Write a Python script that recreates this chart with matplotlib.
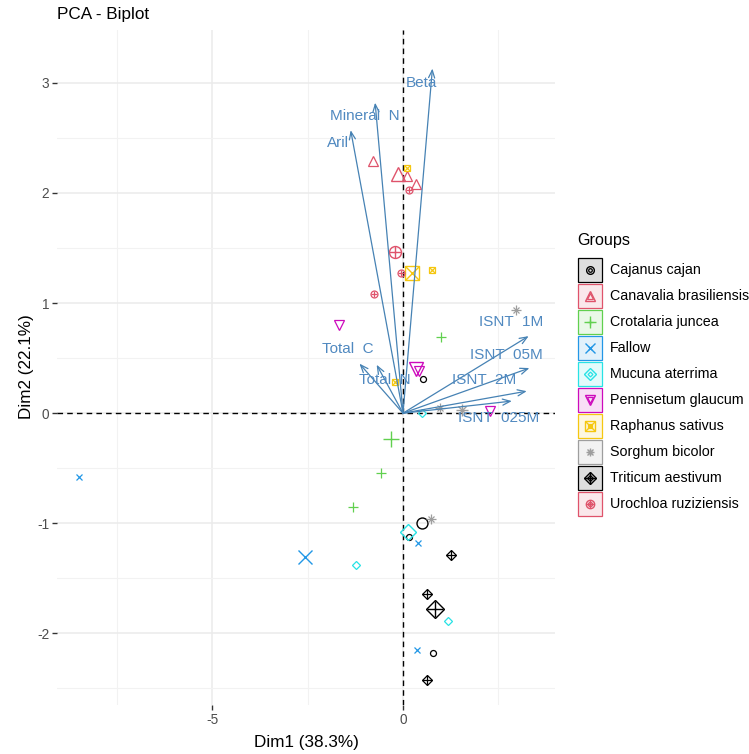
import numpy as np
import matplotlib
matplotlib.use("Agg")
import matplotlib.pyplot as plt
from matplotlib.patches import Rectangle

plt.rcParams['font.family'] = ['Liberation Sans', 'DejaVu Sans']
plt.rcParams['axes.unicode_minus'] = False

groups = ["Cajanus cajan", "Canavalia brasiliensis", "Crotalaria juncea", "Fallow",
          "Mucuna aterrima", "Pennisetum glaucum", "Raphanus sativus",
          "Sorghum bicolor", "Triticum aestivum", "Urochloa ruziziensis"]
colors = ["#000000", "#DF536B", "#61D04F", "#2297E6", "#28E2E5",
          "#CD0BBC", "#F5C710", "#9E9E9E", "#000000", "#DF536B"]

# individuals (Dim1, Dim2), three per group
ind_x = [[0.53, 0.16, 0.79], [-0.78, 0.10, 0.34], [0.99, -0.58, -1.31],
         [-8.48, 0.40, 0.36], [0.51, -1.23, 1.19], [-1.67, 2.28, 0.41],
         [0.11, 0.76, -0.22], [2.96, 0.97, 0.73], [1.26, 0.62, 0.62],
         [0.15, -0.06, -0.76]]
ind_y = [[0.31, -1.12, -2.18], [2.29, 2.15, 2.08], [0.69, -0.54, -0.85],
         [-0.58, -1.18, -2.15], [0.00, -1.38, -1.89], [0.80, 0.02, 0.38],
         [2.23, 1.30, 0.28], [0.94, 0.05, -0.96], [-1.29, -1.64, -2.42],
         [2.03, 1.27, 1.08]]
# group mean points
mean_x = [0.51, -0.14, -0.31, -2.57, 0.14, 0.34, 0.23, 1.55, 0.84, -0.21]
mean_y = [-1.00, 2.17, -0.23, -1.31, -1.08, 0.40, 1.27, 0.03, -1.78, 1.46]

# variables
var_names = ["Beta", "Mineral  N", "Aril", "Total  C", "Total  N",
             "ISNT  1M", "ISNT  05M", "ISNT  2M", "ISNT  025M"]
var_x = [0.77, -0.73, -1.37, -1.14, -0.69, 3.29, 3.31, 3.24, 2.85]
var_y = [3.13, 2.82, 2.57, 0.45, 0.44, 0.70, 0.41, 0.20, 0.11]
lab_x = [0.47, -0.99, -1.69, -1.44, -0.47, 2.83, 2.71, 2.13, 2.51]
lab_y = [3.00, 2.70, 2.45, 0.58, 0.30, 0.83, 0.53, 0.30, -0.04]

# marker parts: (marker, small ms, large ms)
shapes = [
    [("o", 4.3, 7.9)],
    [("^", 6.5, 9.4)],
    [("+", 7.2, 11.5)],
    [("x", 5.0, 10.0)],
    [("D", 4.1, 8.1)],
    [("v", 6.5, 10.0)],
    [("s", 5.0, 9.4), ("x", 5.0, 9.4)],
    [("+", 6.5, 8.6), ("x", 4.6, 6.1)],
    [("D", 5.1, 8.7), ("+", 7.2, 12.2)],
    [("o", 5.0, 8.6), ("+", 5.0, 8.6)],
]

fig = plt.figure(figsize=(7.49, 7.54), dpi=100)
ax = fig.add_axes([57 / 749, 1 - 705 / 754, 498 / 749, 675 / 754])

ax.set_xlim(-9.06, 3.98)
ax.set_ylim(-2.65, 3.48)
ax.set_xticks([-5, 0])
ax.set_yticks([-2, -1, 0, 1, 2, 3])
ax.set_xticks([-7.5, -2.5, 2.5], minor=True)
ax.set_yticks([-2.5, -1.5, -0.5, 0.5, 1.5, 2.5], minor=True)
ax.grid(which='major', color='#EBEBEB', lw=1.1)
ax.grid(which='minor', color='#F2F2F2', lw=0.8)
ax.set_axisbelow(True)
for s in ax.spines.values():
    s.set_visible(False)
ax.tick_params(which='major', length=3.5, width=1, color='#333333',
               labelsize=9.8, labelcolor='#4D4D4D', pad=2)
ax.tick_params(which='minor', length=0)

ax.axhline(0, color='black', lw=1, dashes=(4, 3), zorder=1)
ax.axvline(0, color='black', lw=1, dashes=(4, 3), zorder=1)

for i in range(len(groups)):
    for m, ms_s, ms_l in shapes[i]:
        ax.plot(ind_x[i], ind_y[i], linestyle='none', marker=m, ms=ms_s,
                mfc='none', mec=colors[i], mew=0.9, zorder=3)
        ax.plot([mean_x[i]], [mean_y[i]], linestyle='none', marker=m, ms=ms_l,
                mfc='none', mec=colors[i], mew=1.0, zorder=3)

for i in range(len(var_names)):
    ax.annotate('', xy=(var_x[i], var_y[i]), xytext=(0, 0),
                arrowprops=dict(arrowstyle='->,head_length=0.55,head_width=0.22',
                                color='#4682B4', lw=0.9, shrinkA=0, shrinkB=0),
                zorder=4)
    ax.text(lab_x[i], lab_y[i], var_names[i], color='#5089C0', fontsize=11,
            ha='center', va='center', zorder=5)

fig.text(57 / 749, 1 - 14 / 754, "PCA - Biplot", fontsize=12.3, ha='left', va='center')
fig.text(306 / 749, 1 - 743 / 754, "Dim1 (38.3%)", fontsize=12.3, ha='center', va='center')
fig.text(27 / 749, 1 - 367 / 754, "Dim2 (22.1%)", fontsize=12.3, ha='center',
         va='center', rotation=90)

# legend drawn in pixel coordinates
lax = fig.add_axes([0, 0, 1, 1])
lax.set_xlim(0, 749)
lax.set_ylim(754, 0)
lax.axis('off')
lax.text(577, 241, "Groups", fontsize=11.6, ha='left', va='center')
for i, g in enumerate(groups):
    cy = 270 + 26 * i
    lax.add_patch(Rectangle((577.5, cy - 12), 24, 24, facecolor=colors[i],
                            alpha=0.13, edgecolor='none'))
    lax.add_patch(Rectangle((577.5, cy - 12), 24, 24, facecolor='none',
                            edgecolor=colors[i], lw=0.9))
    for m, ms_s, ms_l in shapes[i]:
        lax.plot([589.5], [cy], linestyle='none', marker=m, ms=ms_s * 0.6,
                 mfc='none', mec=colors[i], mew=0.9)
        lax.plot([589.5], [cy], linestyle='none', marker=m, ms=ms_l * 0.7,
                 mfc='none', mec=colors[i], mew=1.0)
    lax.text(610, cy, g, fontsize=10.3, ha='left', va='center')

fig.savefig("out.png", dpi=100)
